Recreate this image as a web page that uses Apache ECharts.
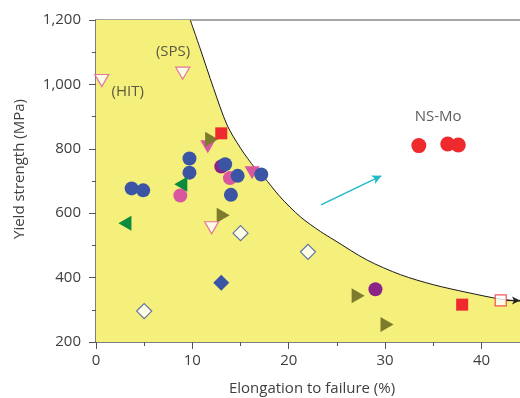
<!DOCTYPE html>
<html><head><meta charset="utf-8">
<script src="https://cdn.jsdelivr.net/npm/echarts@6/dist/echarts.min.js"></script>
<style>html,body{margin:0;padding:0;background:#fff}#c{width:520px;height:398px}</style>
</head><body><div id="c"></div>
<script>
// ---- data ----
const xTicks = [0, 10, 20, 30, 40];
const xMinorTicks = [5, 15, 25, 35];
const yTicks = [200, 400, 600, 800, 1000, 1200];
const boundaryCurve = [[9.78,1200],[10.8,1112],[12.2,988],[13.6,874],[15,802],[16.5,740],[17.4,713],[19.1,651],[21.2,589],[23.3,543],[24.7,517],[28.1,455],[31.6,409],[35,378],[38.5,354],[42,333],[44,327]];
const boundaryTopEnd = [9.9, 1200];
const pinkCircles = [[8.75,655],[13.9,709]];
const purpleCircles = [[13.0,745],[29.0,364]];
const pinkTriangles = [[11.6,806],[16.2,726]];
const blueCircles = [[3.7,677],[4.9,671],[9.7,770],[9.7,726],[13.4,752],[14.7,716],[17.15,720],[14.0,657]];
const oliveTriangles = [[12.0,830],[13.2,594],[27.2,344],[30.2,254]];
const greenTriangles = [[3.0,569],[8.8,690]];
const redSquares = [[13.0,848],[38.0,316]];
const hollowSquares = [[42.0,329]];
const hollowTriangles = [[0.6,1012],[9.0,1035],[12.0,555]];
const hollowDiamonds = [[5.0,296],[15.0,538],[22.0,480]];
const blueDiamonds = [[13.0,384]];
const nsMo = [[33.5,810],[36.5,815],[37.6,812]];
const annotations = [{name:'(SPS)', value:[8.0,1100]},{name:'(HIT)', value:[3.3,976]},{name:'NS-Mo', value:[35.5,899]}];
const trendArrow = [[23.35,626],[29.6,716]];
const limitArrow = [[42.6,329],[44,329]];

const F = "'Open Sans', sans-serif";
const TXT = '#404040';
const AX = '#555';

function fmtY(v){ return v >= 1000 ? Math.floor(v/1000) + ',' + String(v%1000).padStart(3,'0') : String(v); }

function sc(data, symbol, size, color, opts){
  return Object.assign({
    type:'scatter', data:data, symbol:symbol, symbolSize:size,
    itemStyle:{color:color, opacity:1}, silent:true, z:5
  }, opts||{});
}

const chart = echarts.init(document.getElementById('c'), null, {renderer:'canvas'});
chart.setOption({
  animation:false,
  backgroundColor:'#fff',
  grid:{left:96, top:20, right:0, bottom:56, containLabel:false},
  xAxis:[
    {type:'value', min:0, max:44, interval:10, position:'bottom',
     axisLine:{show:true, lineStyle:{color:AX, width:1.5}},
     axisTick:{show:true, inside:false, length:7, customValues:xTicks, lineStyle:{color:AX, width:1}},
     axisLabel:{show:true, customValues:xTicks, margin:11, fontSize:15, color:TXT, fontFamily:F},
     splitLine:{show:false}},
    {type:'value', min:0, max:44, position:'bottom', gridIndex:0,
     axisLine:{show:false},
     axisTick:{show:true, inside:false, length:4, customValues:xMinorTicks, lineStyle:{color:AX, width:1}},
     axisLabel:{show:false}, splitLine:{show:false}},
    {type:'value', min:0, max:44, position:'top', gridIndex:0,
     axisLine:{show:true, lineStyle:{color:'#8a8a8a', width:1.5}},
     axisTick:{show:false}, axisLabel:{show:false}, splitLine:{show:false}}
  ],
  yAxis:[
    {type:'value', min:200, max:1200, interval:200,
     axisLine:{show:true, lineStyle:{color:AX, width:1.5}},
     axisTick:{show:true, inside:false, length:7, lineStyle:{color:AX, width:1}},
     minorTick:{show:true, splitNumber:2, length:4, lineStyle:{color:AX, width:1}},
     axisLabel:{margin:15, fontSize:15, color:TXT, fontFamily:F, formatter:fmtY},
     splitLine:{show:false}, minorSplitLine:{show:false}}
  ],
  graphic:[
    {type:'text', x:20, y:169, rotation:Math.PI/2, z:10,
     style:{text:'Yield strength (MPa)', fill:TXT, font:'15px ' + F, align:'center', verticalAlign:'middle'}},
    {type:'text', x:312, y:389, z:10,
     style:{text:'Elongation to failure (%)', fill:TXT, font:'15px ' + F, align:'center', verticalAlign:'middle'}}
  ],
  series:[
    {type:'line', data:boundaryCurve, smooth:0.3, symbol:'none', silent:true, z:1,
     lineStyle:{width:0, opacity:0},
     areaStyle:{color:'#f5ef7c', opacity:1, origin:'start'},
     markArea:{silent:true, z:1, itemStyle:{color:'#f5ef7c', opacity:1, borderWidth:0},
       data:[[{coord:[0,200]},{coord:boundaryTopEnd}]]}},
    {type:'line', data:boundaryCurve, smooth:0.3, symbol:'none', silent:true, z:2,
     lineStyle:{color:'#1a1a1a', width:1}},
    {type:'line', data:[], symbol:'none', silent:true, z:6,
     markLine:{silent:true, symbol:['none','arrow'], symbolSize:[7,9], label:{show:false},
       lineStyle:{color:'#1fb9c8', width:1.5, type:'solid'},
       data:[[{coord:trendArrow[0]},{coord:trendArrow[1]}]]}},
    {type:'line', data:[], symbol:'none', silent:true, z:6,
     markLine:{silent:true, symbol:['none','arrow'], symbolSize:[6,8], label:{show:false},
       lineStyle:{color:'#222', width:1.2, type:'solid'},
       data:[[{coord:limitArrow[0]},{coord:limitArrow[1]}]]}},
    sc(pinkCircles, 'circle', 14, '#d8579f'),
    sc(purpleCircles, 'circle', 14, '#8a2486'),
    sc(pinkTriangles, 'triangle', [15,13], '#d8579f', {symbolRotate:180}),
    sc(blueCircles, 'circle', 14, '#3b55a4'),
    sc(oliveTriangles, 'triangle', [15,13], '#7c7c2c', {symbolRotate:-90}),
    sc(greenTriangles, 'triangle', [15,13], '#0a8b3d', {symbolRotate:90}),
    sc(redSquares, 'rect', 12, '#ee2a2f'),
    sc(blueDiamonds, 'diamond', 16, '#3b55a4'),
    sc(hollowSquares, 'rect', 11, '#fff', {itemStyle:{color:'#fff', borderColor:'#ee2a2f', borderWidth:1.2}}),
    sc(hollowTriangles, 'triangle', [14,12], '#fff', {symbolRotate:180, itemStyle:{color:'#fff', borderColor:'#e0579a', borderWidth:1.2}}),
    sc(hollowDiamonds, 'diamond', 15, '#fff', {itemStyle:{color:'#fff', borderColor:'#3b55a4', borderWidth:1.2}}),
    sc(nsMo, 'circle', 15, '#ee2a2f'),
    {type:'scatter', data:annotations, symbolSize:0, silent:true, z:7,
     label:{show:true, position:'inside', formatter:'{b}', fontSize:15, color:'#333', fontFamily:F}}
  ]
});
</script></body></html>
